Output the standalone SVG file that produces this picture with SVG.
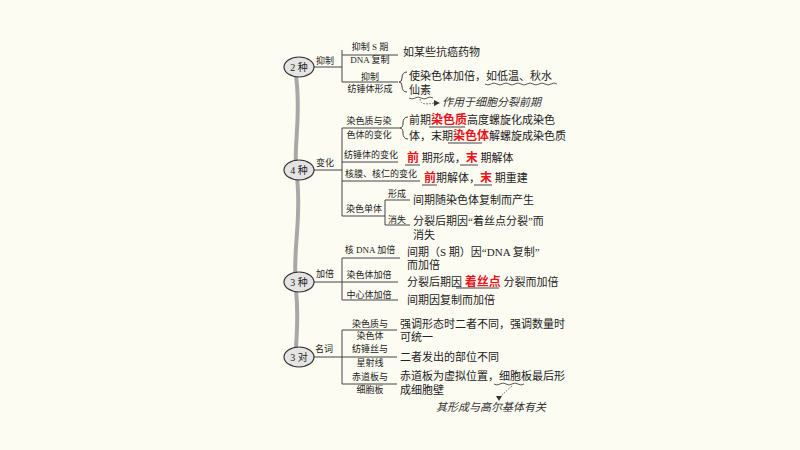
<svg xmlns="http://www.w3.org/2000/svg" width="800" height="450" viewBox="0 0 800 450">
<style>
text{font-family:"Liberation Serif","Noto Sans CJK SC",serif;fill:#222}
.l{font-size:9px;text-anchor:middle}
.t{font-size:11px}
.r{fill:#e8141c;font-weight:bold;font-size:12px;font-family:"Noto Sans CJK SC",sans-serif}
.h{font-size:11px;font-style:italic;fill:#333}
.o{fill:#e4e4e4;stroke:#333;stroke-width:1.2}
.k{fill:none;stroke:#444;stroke-width:1}
.w{fill:none;stroke:#333;stroke-width:0.8}
.n{font-size:10px;text-anchor:middle}
</style>
<rect width="800" height="450" fill="#fdfcf3"/>
<path d="M296,76 C302,120 292,150 297,178 C302,220 292,250 296,290 C299,320 296,340 296,350" fill="none" stroke="#a8a8a8" stroke-width="4"/>
<g id="connectors" class="k">
<path d="M314,67 H342 M342,50 V82 M342,55 H398 M342,82 H398"/>
<path d="M314,170 H342 M342,128 V216 M342,128 H400 M342,162 H398 M342,181 H420 M342,216 H385 M385,200 V225 M385,200 H410 M385,225 H410"/>
<path d="M314,282 H342 M342,258 V300 M342,258 H400 M342,282 H398 M342,300 H398"/>
<path d="M314,357 H342 M342,330 V384 M342,330 H397 M342,357 H397 M342,384 H397"/>
<path d="M407,72 Q402,72 402,78 Q402,82 399,82 Q402,82 402,86 Q402,92 407,92"/>
<path d="M408,117 Q403,117 403,123 Q403,128 400,128 Q403,128 403,133 Q403,139 408,139"/>
</g>
<g id="n2"><ellipse class="o" cx="299" cy="67" rx="15" ry="10"/><text class="n" x="299" y="71">2 种</text><text class="l" x="325" y="64">抑制</text>
<text class="l" x="370" y="50">抑制 S 期</text><text class="l" x="370" y="63">DNA 复制</text><text class="t" x="403" y="56">如某些抗癌药物</text>
<text class="l" x="370" y="80">抑制</text><text class="l" x="370" y="92">纺锤体形成</text>
<text class="t" x="409" y="80">使染色体加倍，如低温、秋水</text><text class="t" x="409" y="94">仙素</text>
<path class="w" d="M485,84 q3,2 6,0 t6,0 t6,0 t6,0 t6,0 t6,0 t6,0 t6,0 t6,0 t6,0 t6,0 t6,0 M409,98 q3,2 6,0 t6,0 t6,0 t6,0"/>
<path class="w" stroke-dasharray="1.5,1.5" d="M420,99 Q420,106 434,103"/><path d="M434,100 L440,103 L434,106Z" fill="#333"/>
<text class="h" x="442" y="106">作用于细胞分裂前期</text></g>
<g id="n4"><ellipse class="o" cx="299" cy="170" rx="15" ry="10"/><text class="n" x="299" y="174">4 种</text><text class="l" x="325" y="166">变化</text>
<text class="l" x="369" y="124">染色质与染</text><text class="l" x="369" y="138">色体的变化</text>
<text class="t" x="409" y="124">前期<tspan class="r">染色质</tspan>高度螺旋化成染色</text>
<text class="t" x="409" y="140">体，末期<tspan class="r">染色体</tspan>解螺旋成染色质</text>
<path class="k" d="M429,127 H465 M448,143 H482"/>
<text class="l" x="371" y="158">纺锤体的变化</text><text class="t" x="407" y="162"><tspan class="r">前</tspan> 期形成，<tspan class="r">末</tspan> 期解体</text>
<path class="k" d="M405,165 H420 M460,165 H478"/>
<text class="l" x="381" y="177">核膜、核仁的变化</text><text class="t" x="424" y="182"><tspan class="r">前</tspan>期解体，<tspan class="r">末</tspan> 期重建</text>
<path class="k" d="M422,185 H437 M474,185 H492"/>
<text class="l" x="364" y="212">染色单体</text><text class="l" x="397" y="197">形成</text><text class="l" x="397" y="223">消失</text>
<text class="t" x="413" y="204">间期随染色体复制而产生</text><text class="t" x="413" y="225">分裂后期因“着丝点分裂”而</text><text class="t" x="413" y="239">消失</text></g>
<g id="n3"><ellipse class="o" cx="299" cy="282" rx="15" ry="10"/><text class="n" x="299" y="286">3 种</text><text class="l" x="325" y="277">加倍</text>
<text class="l" x="370" y="253">核 DNA 加倍</text><text class="t" x="407" y="256">间期（S 期）因“DNA 复制”</text><text class="t" x="407" y="269">而加倍</text>
<text class="l" x="369" y="278">染色体加倍</text><text class="t" x="407" y="286">分裂后期因 <tspan class="r">着丝点</tspan> 分裂而加倍</text><path class="k" d="M456,288 H499"/>
<text class="l" x="369" y="298">中心体加倍</text><text class="t" x="407" y="304">间期因复制而加倍</text></g>
<g id="n3d"><ellipse class="o" cx="299" cy="357" rx="15" ry="10"/><text class="n" x="299" y="361">3 对</text><text class="l" x="324" y="352">名词</text>
<text class="l" x="370" y="327">染色质与</text><text class="l" x="370" y="339">染色体</text>
<text class="t" x="400" y="328">强调形态时二者不同，强调数量时</text><text class="t" x="400" y="341">可统一</text>
<text class="l" x="370" y="352">纺锤丝与</text><text class="l" x="370" y="366">星射线</text><text class="t" x="400" y="361">二者发出的部位不同</text>
<text class="l" x="370" y="380">赤道板与</text><text class="l" x="370" y="393">细胞板</text>
<text class="t" x="400" y="380">赤道板为虚拟位置，细胞板最后形</text><text class="t" x="400" y="394">成细胞壁</text>
<path class="w" d="M494,384 q3,2 6,0 t6,0 t6,0 t6,0 t6,0"/>
<path class="w" stroke-dasharray="1.5,1.5" d="M512,386 Q505,392 500,397"/><path d="M496,396 L499,401 L502,396Z" fill="#333"/>
<text class="h" x="436" y="411">其形成与高尔基体有关</text></g>
</svg>
